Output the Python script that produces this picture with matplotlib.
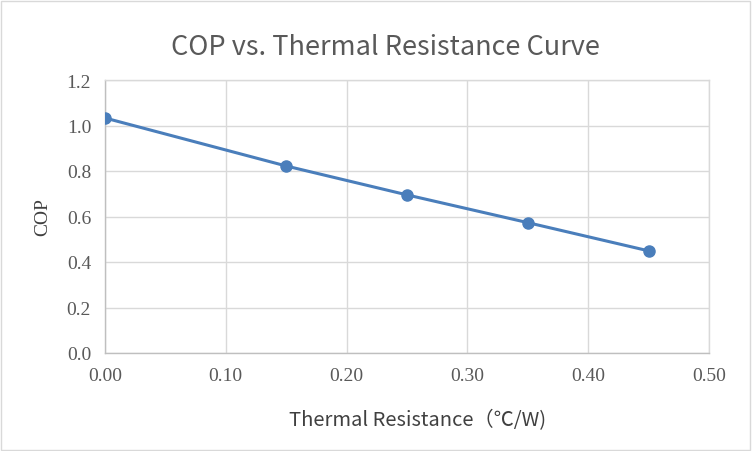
import matplotlib
matplotlib.use("Agg")
import matplotlib.pyplot as plt
from matplotlib.patches import Rectangle

# data
resistance = [0.00, 0.15, 0.25, 0.35, 0.45]
cop = [1.033, 0.822, 0.695, 0.573, 0.449]

x_ticks = [0.0, 0.1, 0.2, 0.3, 0.4, 0.5]
y_ticks = [0.0, 0.2, 0.4, 0.6, 0.8, 1.0, 1.2]

fig = plt.figure(figsize=(7.52, 4.52), dpi=100)
ax = fig.add_axes([105 / 752, 98 / 452, 604 / 752, 273 / 452])

ax.plot(resistance, cop, color='#4a7ebb', linewidth=2.2,
        marker='o', markersize=8, zorder=3)

ax.set_xlim(0, 0.5)
ax.set_ylim(0, 1.2)
ax.set_xticks(x_ticks)
ax.set_yticks(y_ticks)
ax.set_xticklabels(['%.2f' % v for v in x_ticks])
ax.set_yticklabels(['%.1f' % v for v in y_ticks])

for lab in ax.get_xticklabels() + ax.get_yticklabels():
    lab.set_fontfamily('Liberation Serif')
    lab.set_fontsize(14)
    lab.set_color('#595959')

ax.tick_params(length=0, pad=10)
ax.grid(True, color='#d9d9d9', linewidth=1)
for s in ax.spines.values():
    s.set_color('#d9d9d9')
    s.set_linewidth(1)
ax.spines['bottom'].set_color('#bfbfbf')
ax.spines['left'].set_color('#bfbfbf')

ax.set_xlabel('Thermal Resistance（℃/W)', fontsize=14.5, color='#404040',
              family=['Noto Sans CJK SC', 'DejaVu Sans'], labelpad=18)
ax.xaxis.label.set_x(0.517)
ax.set_ylabel('COP', fontsize=14, color='#404040', family='Liberation Serif',
              labelpad=11)
fig.suptitle('COP vs. Thermal Resistance Curve', x=0.513, y=0.925, fontsize=19.5,
             color='#595959', family=['Noto Sans CJK SC', 'DejaVu Sans'])

fig.patches.append(Rectangle((1 / 752, 1 / 452), 749 / 752, 449 / 452,
                             transform=fig.transFigure, fill=False,
                             edgecolor='#d9d9d9', linewidth=1))

fig.savefig('out.png', dpi=100)
